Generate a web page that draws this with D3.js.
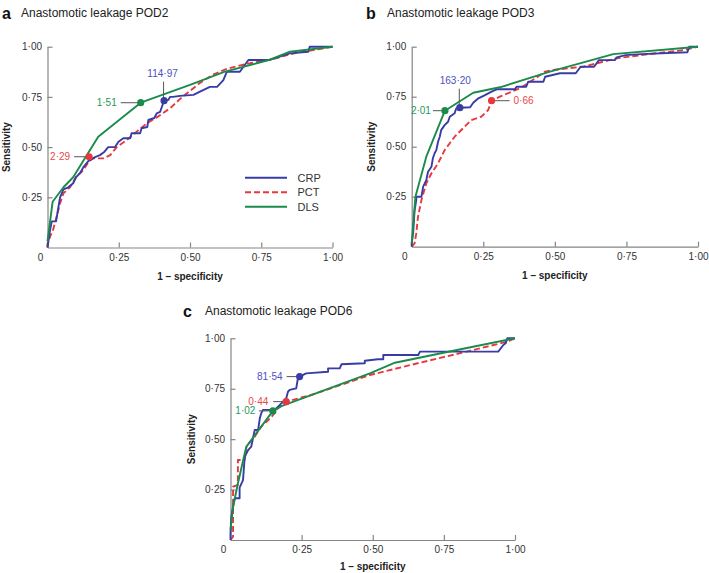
<!DOCTYPE html>
<html><head><meta charset="utf-8">
<script src="https://cdn.jsdelivr.net/npm/d3@7"></script>
<style>body{margin:0;background:#fff} svg{display:block} text{font-family:"Liberation Sans",Arial,Helvetica,sans-serif}</style>
</head><body><svg id="chart" width="709" height="573"></svg>
<script>
// ---------- data ----------
const tickValues = [0.25, 0.5, 0.75, 1.0];
const tickLabels = ["0·25", "0·50", "0·75", "1·00"];
const seriesNames = ["CRP", "PCT", "DLS"];
const panelLetters = ["a", "b", "c"];
const panelTitles = ["Anastomotic leakage POD2", "Anastomotic leakage POD3", "Anastomotic leakage POD6"];

// Panel a (POD2)  [1 - specificity, sensitivity]
const crpA = [[0,0],[0.009,0.087],[0.015,0.13],[0.03,0.13],[0.044,0.25],[0.056,0.29],[0.073,0.30],[0.09,0.32],[0.10,0.35],[0.114,0.37],[0.126,0.40],[0.143,0.43],[0.167,0.45],[0.184,0.46],[0.20,0.477],[0.213,0.50],[0.237,0.50],[0.249,0.527],[0.266,0.544],[0.29,0.544],[0.295,0.569],[0.325,0.569],[0.33,0.594],[0.35,0.60],[0.354,0.635],[0.375,0.645],[0.383,0.668],[0.395,0.675],[0.409,0.731],[0.424,0.735],[0.43,0.75],[0.44,0.75],[0.465,0.755],[0.512,0.76],[0.535,0.776],[0.57,0.80],[0.595,0.80],[0.617,0.834],[0.629,0.875],[0.675,0.875],[0.705,0.934],[0.78,0.934],[0.85,0.967],[0.915,0.975],[0.92,1.0],[1,1]];
const pctA = [[0,0],[0.0,0.02],[0.009,0.054],[0.02,0.09],[0.032,0.153],[0.044,0.22],[0.056,0.27],[0.079,0.30],[0.10,0.35],[0.126,0.386],[0.146,0.43],[0.16,0.444],[0.196,0.444],[0.22,0.46],[0.243,0.50],[0.278,0.535],[0.313,0.577],[0.348,0.618],[0.383,0.648],[0.43,0.693],[0.465,0.74],[0.5,0.78],[0.535,0.82],[0.58,0.86],[0.629,0.89],[0.7,0.915],[0.78,0.935],[0.874,0.97],[1,1]];
const dlsA = [[0,0.03],[0.018,0.228],[0.056,0.30],[0.09,0.35],[0.178,0.552],[0.327,0.721],[0.5,0.81],[0.62,0.875],[0.78,0.935],[0.851,0.975],[1,1]];
const cutA = [[0.409,0.731],[0.146,0.452],[0.327,0.721]];          // CRP, PCT, DLS
const cutLabelsA = ["114·97", "2·29", "1·51"];

// Panel b (POD3)
const crpB = [[0,0],[0,0.017],[0.005,0.067],[0.01,0.18],[0.016,0.233],[0.016,0.25],[0.034,0.25],[0.04,0.30],[0.051,0.333],[0.057,0.375],[0.069,0.40],[0.074,0.442],[0.08,0.467],[0.086,0.483],[0.092,0.525],[0.098,0.55],[0.103,0.583],[0.115,0.608],[0.127,0.625],[0.133,0.65],[0.15,0.667],[0.155,0.69],[0.168,0.695],[0.204,0.697],[0.215,0.72],[0.233,0.742],[0.256,0.758],[0.279,0.775],[0.297,0.787],[0.36,0.787],[0.367,0.80],[0.40,0.80],[0.407,0.825],[0.46,0.825],[0.466,0.85],[0.518,0.867],[0.573,0.867],[0.59,0.90],[0.637,0.90],[0.654,0.933],[0.71,0.933],[0.716,0.947],[0.747,0.958],[0.803,0.963],[0.963,0.972],[0.969,1.0],[1,1]];
const pctB = [[0,0],[0.01,0.017],[0.016,0.067],[0.022,0.15],[0.034,0.233],[0.051,0.317],[0.069,0.367],[0.092,0.417],[0.115,0.483],[0.133,0.517],[0.15,0.55],[0.185,0.60],[0.208,0.633],[0.243,0.65],[0.267,0.683],[0.279,0.73],[0.308,0.75],[0.378,0.792],[0.43,0.84],[0.465,0.875],[0.5,0.885],[0.60,0.90],[0.716,0.942],[0.83,0.963],[0.95,0.983],[1,1]];
const dlsB = [[0,0.017],[0.013,0.25],[0.051,0.45],[0.116,0.68],[0.215,0.77],[0.308,0.797],[0.483,0.875],[0.704,0.963],[1,1]];
const cutB = [[0.168,0.695],[0.279,0.73],[0.116,0.68]];
const cutLabelsB = ["163·20", "0·66", "2·01"];

// Panel c (POD6)
const crpC = [[0,0],[0,0.033],[0.003,0.116],[0.009,0.165],[0.015,0.207],[0.032,0.207],[0.032,0.26],[0.044,0.297],[0.05,0.413],[0.062,0.446],[0.073,0.463],[0.085,0.545],[0.097,0.545],[0.103,0.603],[0.108,0.628],[0.114,0.645],[0.155,0.645],[0.167,0.661],[0.185,0.686],[0.196,0.703],[0.202,0.735],[0.208,0.744],[0.231,0.752],[0.237,0.802],[0.243,0.81],[0.266,0.826],[0.343,0.834],[0.343,0.851],[0.384,0.851],[0.39,0.871],[0.472,0.876],[0.472,0.889],[0.518,0.896],[0.537,0.896],[0.537,0.917],[0.66,0.917],[0.666,0.934],[0.941,0.934],[0.959,0.967],[0.967,0.975],[0.973,1.0],[1,1]];
const pctC = [[0,0],[0.009,0.016],[0.009,0.264],[0.026,0.273],[0.026,0.397],[0.05,0.397],[0.056,0.463],[0.085,0.512],[0.108,0.562],[0.143,0.608],[0.167,0.653],[0.196,0.686],[0.284,0.719],[0.49,0.818],[0.666,0.879],[0.842,0.938],[0.971,0.983],[1,1]];
const dlsC = [[0,0.05],[0.009,0.165],[0.026,0.28],[0.05,0.43],[0.056,0.463],[0.149,0.64],[0.179,0.664],[0.49,0.826],[0.578,0.879],[0.783,0.938],[1,1]];
const cutC = [[0.243,0.81],[0.196,0.686],[0.149,0.64]];
const cutLabelsC = ["81·54", "0·44", "1·02"];

// ---------- layout & style ----------
const colors = ["#3a3ca6", "#e8383e", "#1b8b4b"];
const labelColors = ["#4d50c0", "#e8474b", "#25985a"];
const dashes = [null, "6,3", null];

const panels = [
  { box:{x0:47.5, x1:332.5, y0:247.5, y1:46.7}, letterX:2, titleX:21, titleY:17,
    series:[crpA,pctA,dlsA], cuts:cutA, cutLabels:cutLabelsA,
    ann:[{dir:"up"},{dir:"left",len:14,gap:4},{dir:"left",len:19,gap:4}], legend:true, ylabX:41.5, xlabDy:28.5 },
  { box:{x0:411.7, x1:698, y0:246.7, y1:46.7}, letterX:366, titleX:387, titleY:17,
    series:[crpB,pctB,dlsB], cuts:cutB, cutLabels:cutLabelsB,
    ann:[{dir:"up",dx:-4},{dir:"right",len:17,gap:4},{dir:"left",len:11,gap:2}], legend:false, ylabX:40.7, xlabDy:29 },
  { box:{x0:230.5, x1:515, y0:540, y1:338.3}, letterX:183, titleX:205, titleY:315,
    series:[crpC,pctC,dlsC], cuts:cutC, cutLabels:cutLabelsC,
    ann:[{dir:"left",len:12,gap:4},{dir:"left",len:12,gap:5},{dir:"left",len:13,gap:3.5}], legend:false, ylabX:38.8, xlabDy:26 }
];

const svg = d3.select("#chart");
const axisColor = "#858585";

panels.forEach((p, i) => {
  const b = p.box;
  const x = d3.scaleLinear().domain([0,1]).range([b.x0, b.x1]);
  const y = d3.scaleLinear().domain([0,1]).range([b.y0, b.y1]);
  const g = svg.append("g");

  // title
  g.append("text").attr("x", p.letterX).attr("y", p.titleY + 2)
    .attr("font-size", 16).attr("font-weight", "bold").attr("fill", "#111").text(panelLetters[i]);
  g.append("text").attr("x", p.titleX).attr("y", p.titleY)
    .attr("font-size", 12).attr("fill", "#222").text(panelTitles[i]);

  // axes
  const fmt = d => tickLabels[tickValues.indexOf(d)];
  const yAxis = g.append("g").attr("transform", `translate(${b.x0},0)`)
    .call(d3.axisLeft(y).tickValues(tickValues).tickFormat(fmt).tickSizeInner(-5).tickSizeOuter(0).tickPadding(5.5));
  const xAxis = g.append("g").attr("transform", `translate(0,${b.y0})`)
    .call(d3.axisBottom(x).tickValues(tickValues).tickFormat(fmt).tickSizeInner(-5).tickSizeOuter(0).tickPadding(6));
  [xAxis, yAxis].forEach(ax => {
    ax.select(".domain").attr("stroke", axisColor).attr("stroke-width", 1.2);
    ax.selectAll(".tick line").attr("stroke", axisColor).attr("stroke-width", 1.2);
    ax.selectAll("text").attr("font-size", 10).attr("fill", "#333")
      .attr("font-family", '"Liberation Sans",Arial,sans-serif');
  });
  g.append("text").attr("x", b.x0 - 7).attr("y", b.y0 + 6).attr("dy", "0.71em")
    .attr("text-anchor", "middle").attr("font-size", 10).attr("fill", "#333").text("0");

  // axis titles
  g.append("text").attr("x", (b.x0 + b.x1) / 2).attr("y", b.y0 + p.xlabDy).attr("dy", "0.35em")
    .attr("text-anchor", "middle").attr("font-size", 10).attr("font-weight", "bold").attr("fill", "#222")
    .text("1 – specificity");
  g.append("text").attr("transform", `translate(${b.x0 - p.ylabX},${(b.y0 + b.y1) / 2}) rotate(-90)`)
    .attr("dy", "0.35em").attr("text-anchor", "middle").attr("font-size", 10).attr("font-weight", "bold")
    .attr("fill", "#222").text("Sensitivity");

  // curves
  const line = d3.line().x(d => x(d[0])).y(d => y(d[1])).curve(d3.curveLinear);
  const order = [1, 0, 2]; // draw PCT first, then CRP, then DLS
  order.forEach(s => {
    g.append("path").datum(p.series[s]).attr("d", line)
      .attr("fill", "none").attr("stroke", colors[s]).attr("stroke-width", 1.9)
      .attr("stroke-linejoin", "round")
      .attr("stroke-dasharray", dashes[s]);
  });

  // cut-off markers and labels
  p.cuts.forEach((c, s) => {
    const cx = x(c[0]), cy = y(c[1]);
    const a = p.ann[s];
    if (a.dir === "left") {
      g.append("line").attr("x1", cx - 1).attr("x2", cx - 1 - a.len).attr("y1", cy).attr("y2", cy)
        .attr("stroke", "#555").attr("stroke-width", 1);
      g.append("text").attr("x", cx - 1 - a.len - a.gap).attr("y", cy).attr("dy", "0.35em")
        .attr("text-anchor", "end").attr("font-size", 10).attr("fill", labelColors[s]).text(p.cutLabels[s]);
    } else if (a.dir === "right") {
      g.append("line").attr("x1", cx + 1).attr("x2", cx + 1 + a.len).attr("y1", cy).attr("y2", cy)
        .attr("stroke", "#555").attr("stroke-width", 1);
      g.append("text").attr("x", cx + 1 + a.len + a.gap).attr("y", cy).attr("dy", "0.35em")
        .attr("text-anchor", "start").attr("font-size", 10).attr("fill", labelColors[s]).text(p.cutLabels[s]);
    } else {
      const lx = cx - 0.5;
      g.append("line").attr("x1", lx).attr("x2", lx).attr("y1", cy - 3).attr("y2", cy - 19)
        .attr("stroke", "#555").attr("stroke-width", 1);
      g.append("text").attr("x", lx + (a.dx || -1)).attr("y", cy - 27).attr("dy", "0.35em")
        .attr("text-anchor", "middle").attr("font-size", 10).attr("fill", labelColors[s]).text(p.cutLabels[s]);
    }
    g.append("circle").attr("cx", cx).attr("cy", cy).attr("r", 3.6).attr("fill", colors[s]);
  });

  // legend
  if (p.legend) {
    const lx0 = 245, lx1 = 287, ly0 = 177.7, step = 14.5;
    seriesNames.forEach((n, s) => {
      const ly = ly0 + s * step;
      g.append("line").attr("x1", lx0).attr("x2", lx1).attr("y1", ly).attr("y2", ly)
        .attr("stroke", colors[s]).attr("stroke-width", 1.9).attr("stroke-dasharray", dashes[s]);
      g.append("text").attr("x", lx1 + 10.5).attr("y", ly).attr("dy", "0.35em")
        .attr("font-size", 11).attr("fill", "#333").text(n);
    });
  }
});
</script></body></html>
